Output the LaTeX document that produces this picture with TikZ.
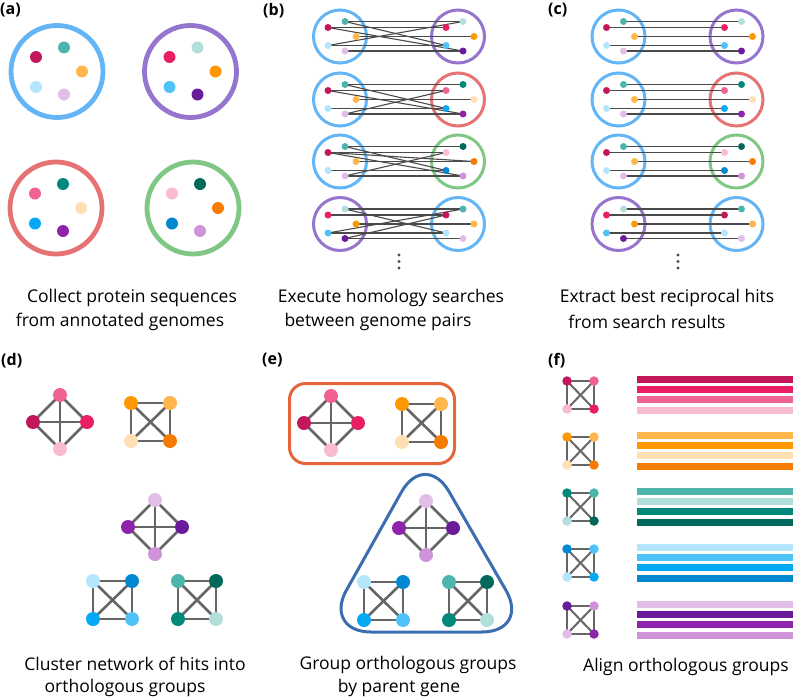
\documentclass[tikz,border=0pt]{standalone}
\usepackage{fontspec}
\setmainfont{Open Sans}
\usepackage{tikz}

\definecolor{pinkA}{HTML}{C2185B}
\definecolor{pinkB}{HTML}{E91E63}
\definecolor{pinkC}{HTML}{F06292}
\definecolor{pinkD}{HTML}{F8BBD0}
\definecolor{orangeA}{HTML}{FFB74D}
\definecolor{orangeB}{HTML}{FF9800}
\definecolor{orangeC}{HTML}{FFE0B2}
\definecolor{orangeD}{HTML}{F57C00}
\definecolor{tealA}{HTML}{4DB6AC}
\definecolor{tealB}{HTML}{B2DFDB}
\definecolor{tealC}{HTML}{00897B}
\definecolor{tealD}{HTML}{00695C}
\definecolor{blueA}{HTML}{B3E5FC}
\definecolor{blueB}{HTML}{4FC3F7}
\definecolor{blueC}{HTML}{03A9F4}
\definecolor{blueD}{HTML}{0288D1}
\definecolor{purpleA}{HTML}{E1BEE7}
\definecolor{purpleB}{HTML}{6A1B9A}
\definecolor{purpleC}{HTML}{8E24AA}
\definecolor{purpleD}{HTML}{CE93D8}
\definecolor{ringA}{HTML}{64B5F6}
\definecolor{ringB}{HTML}{9575CD}
\definecolor{ringC}{HTML}{E57373}
\definecolor{ringD}{HTML}{81C784}
\definecolor{boxorange}{HTML}{E4663A}
\definecolor{boxblue}{HTML}{3A6EB0}
\definecolor{linkgray}{HTML}{4A4A4A}
\definecolor{edgegray}{HTML}{666666}

\pgfdeclarelayer{rings}
\pgfdeclarelayer{links}
\pgfsetlayers{rings,links,main}

\begin{document}
\begin{tikzpicture}[x=1pt, y=-1pt,
		dot_big/.style={circle,inner sep=0pt,minimum size=12pt},
		dot_small/.style={circle,inner sep=0pt,minimum size=7pt},
		vertex_style/.style={circle,inner sep=0pt,minimum size=14pt},
		vertex_tiny/.style={circle,inner sep=0pt,minimum size=9.5pt},
		ring_big/.style={line width=4.8pt},
		ring_small/.style={line width=3pt},
		link_style/.style={draw=linkgray,line width=1.1pt},
		edge_style/.style={draw=edgegray,line width=2.6pt},
		edge_thin/.style={draw=edgegray,line width=2pt},
		box_style/.style={line width=3pt},
		bar_style/.style={line width=7pt},
		label_style/.style={anchor=north west,inner sep=0pt,font=\bfseries\fontsize{16}{16}\selectfont},
		caption_style/.style={inner sep=0pt,font=\fontsize{17.5}{24}\selectfont}]

		\useasboundingbox (0,0) rectangle (798,699);

		\node[label_style] (labA) at (0,3) {(a)};
		\node[label_style] (labB) at (263,3) {(b)};
		\node[label_style] (labC) at (548,3) {(c)};
		\node[label_style] (labD) at (1,353) {(d)};
		\node[label_style] (labE) at (262,353) {(e)};
		\node[label_style] (labF) at (548,353) {(f)};

		% (a) genomes
		\foreach \g/\cx/\cy in {A/57/71.5, B/190.5/71.5, C/56/208, D/193/208} {
			\begin{scope}[shift={(\cx,\cy)}]
				\begin{pgfonlayer}{rings}
					\draw[ring_big, draw=ring\g] (0,0) circle (46pt);
				\end{pgfonlayer}
				\foreach \k/\c/\dx/\dy in {1/pink/-21/-14.5, 2/teal/7/-24, 3/orange/25/0, 4/blue/-21/15.5, 5/purple/7/23}
					\node[dot_big, fill=\c\g] (a\g\k) at (\dx,\dy) {};
			\end{scope}
		}

		% (b) and (c) genome pairs
		\foreach \r/\cy/\gl/\gr in {1/36.5/A/B, 2/99.5/A/C, 3/161.5/A/D, 4/224/B/A} {
			\foreach \s/\cx/\g in {bL/340/\gl, bR/458/\gr, cL/618.5/\gl, cR/736.5/\gr} {
				\begin{scope}[shift={(\cx,\cy)}]
					\begin{pgfonlayer}{rings}
						\draw[ring_small, draw=ring\g] (0,0) circle (26.5pt);
					\end{pgfonlayer}
					\foreach \k/\c/\dx/\dy in {1/pink/-12/-9, 2/teal/5/-15, 3/orange/16/0, 4/blue/-12/9, 5/purple/5/14.5}
						\node[dot_small, fill=\c\g] (\s\r\k) at (\dx,\dy) {};
				\end{scope}
			}
		}

		\begin{pgfonlayer}{links}
			\foreach \a/\b in {1/1,2/2,3/3,4/4,5/5,1/5,2/4,4/2}
				\draw[link_style] (bL1\a.center) -- (bR1\b.center);
			\foreach \a/\b in {1/1,2/2,3/3,4/4,5/5,1/5,2/4,5/1}
				\draw[link_style] (bL2\a.center) -- (bR2\b.center);
			\foreach \a/\b in {1/1,2/2,3/3,4/4,5/5,1/3,1/5,2/4,5/1}
				\draw[link_style] (bL3\a.center) -- (bR3\b.center);
			\foreach \a/\b in {1/1,2/2,3/3,4/4,5/5,2/4,4/2,5/1}
				\draw[link_style] (bL4\a.center) -- (bR4\b.center);
			\foreach \r in {1,...,4}
				\foreach \k in {1,...,5}
					\draw[link_style] (cL\r\k.center) -- (cR\r\k.center);
		\end{pgfonlayer}

		\foreach \cx in {399,678}
			\foreach \cy in {255,261.5,268}
				\fill[linkgray] (\cx,\cy) circle (1.6pt);

		% (d) and (e) clusters
		\foreach \p/\sx/\sy in {d/0/0, e/271/1} {
			\begin{scope}[shift={(\sx,\sy)}]
				\node[vertex_style, fill=pinkC] (\p pink1) at (60,395) {};
				\node[vertex_style, fill=pinkA] (\p pink2) at (33,422) {};
				\node[vertex_style, fill=pinkB] (\p pink3) at (87,422) {};
				\node[vertex_style, fill=pinkD] (\p pink4) at (60,449) {};
				\node[vertex_style, fill=orangeB] (\p orange1) at (131,403) {};
				\node[vertex_style, fill=orangeA] (\p orange2) at (170,403) {};
				\node[vertex_style, fill=orangeC] (\p orange3) at (131,441) {};
				\node[vertex_style, fill=orangeD] (\p orange4) at (170,441) {};
				\node[vertex_style, fill=purpleA] (\p purple1) at (155,500) {};
				\node[vertex_style, fill=purpleC] (\p purple2) at (128,527) {};
				\node[vertex_style, fill=purpleB] (\p purple3) at (182,527) {};
				\node[vertex_style, fill=purpleD] (\p purple4) at (155,554) {};
				\node[vertex_style, fill=blueA] (\p blue1) at (93,581) {};
				\node[vertex_style, fill=blueD] (\p blue2) at (132,581) {};
				\node[vertex_style, fill=blueC] (\p blue3) at (93,619) {};
				\node[vertex_style, fill=blueB] (\p blue4) at (132,619) {};
				\node[vertex_style, fill=tealA] (\p teal1) at (178,581) {};
				\node[vertex_style, fill=tealD] (\p teal2) at (216,581) {};
				\node[vertex_style, fill=tealC] (\p teal3) at (178,619) {};
				\node[vertex_style, fill=tealB] (\p teal4) at (216,619) {};
			\end{scope}
			\begin{pgfonlayer}{links}
				\foreach \grp in {pink,orange,purple,blue,teal}
					\foreach \a/\b in {1/2,1/3,1/4,2/3,2/4,3/4}
						\draw[edge_style] (\p\grp\a.center) -- (\p\grp\b.center);
			\end{pgfonlayer}
		}

		\draw[box_style, draw=boxorange, rounded corners=16pt] (289.5,383.5) rectangle (454.5,463.5);
		\draw[box_style, draw=boxblue, rounded corners=48pt] (425,450) -- (530,632) -- (323,632) -- cycle;

		% (f) alignments
		\foreach \i/\y/\ca/\cb/\cc/\cd/\fam in {1/381/pinkA/pinkC/pinkD/pinkB/pink,
				2/437/orangeB/orangeA/orangeC/orangeD/orange, 3/493/tealC/tealA/tealB/tealD/teal,
				4/549/blueD/blueB/blueA/blueC/blue, 5/606/purpleB/purpleD/purpleA/purpleC/purple} {
			\node[vertex_tiny, fill=\ca] (f\i1) at (567,\y) {};
			\node[vertex_tiny, fill=\cb] (f\i2) at (594,\y) {};
			\node[vertex_tiny, fill=\cc] (f\i3) at (567,\y+28) {};
			\node[vertex_tiny, fill=\cd] (f\i4) at (594,\y+28) {};
			\begin{pgfonlayer}{links}
				\foreach \a/\b in {1/2,1/3,1/4,2/3,2/4,3/4}
					\draw[edge_thin] (f\i\a.center) -- (f\i\b.center);
			\end{pgfonlayer}
			\foreach \g [count=\j from 0] in {A,B,C,D}
				\draw[bar_style, draw=\fam\g] (637,\y-1.5+10.2*\j) -- (793,\y-1.5+10.2*\j);
		}

		\node[caption_style] (capA1) at (132,298) {Collect protein sequences};
		\node[caption_style] (capA2) at (120,322) {from annotated genomes};
		\node[caption_style] (capB1) at (391,298) {Execute homology searches};
		\node[caption_style] (capB2) at (378,322) {between genome pairs};
		\node[caption_style] (capC1) at (667,298) {Extract best reciprocal hits};
		\node[caption_style] (capC2) at (647,322) {from search results};
		\node[caption_style] (capD1) at (135,664) {Cluster network of hits into};
		\node[caption_style] (capD2) at (125,688) {orthologous groups};
		\node[caption_style] (capE1) at (408,665) {Group orthologous groups};
		\node[caption_style] (capE2) at (399,688) {by parent gene};
		\node[caption_style] (capF1) at (686,667) {Align orthologous groups};

\end{tikzpicture}
\end{document}
